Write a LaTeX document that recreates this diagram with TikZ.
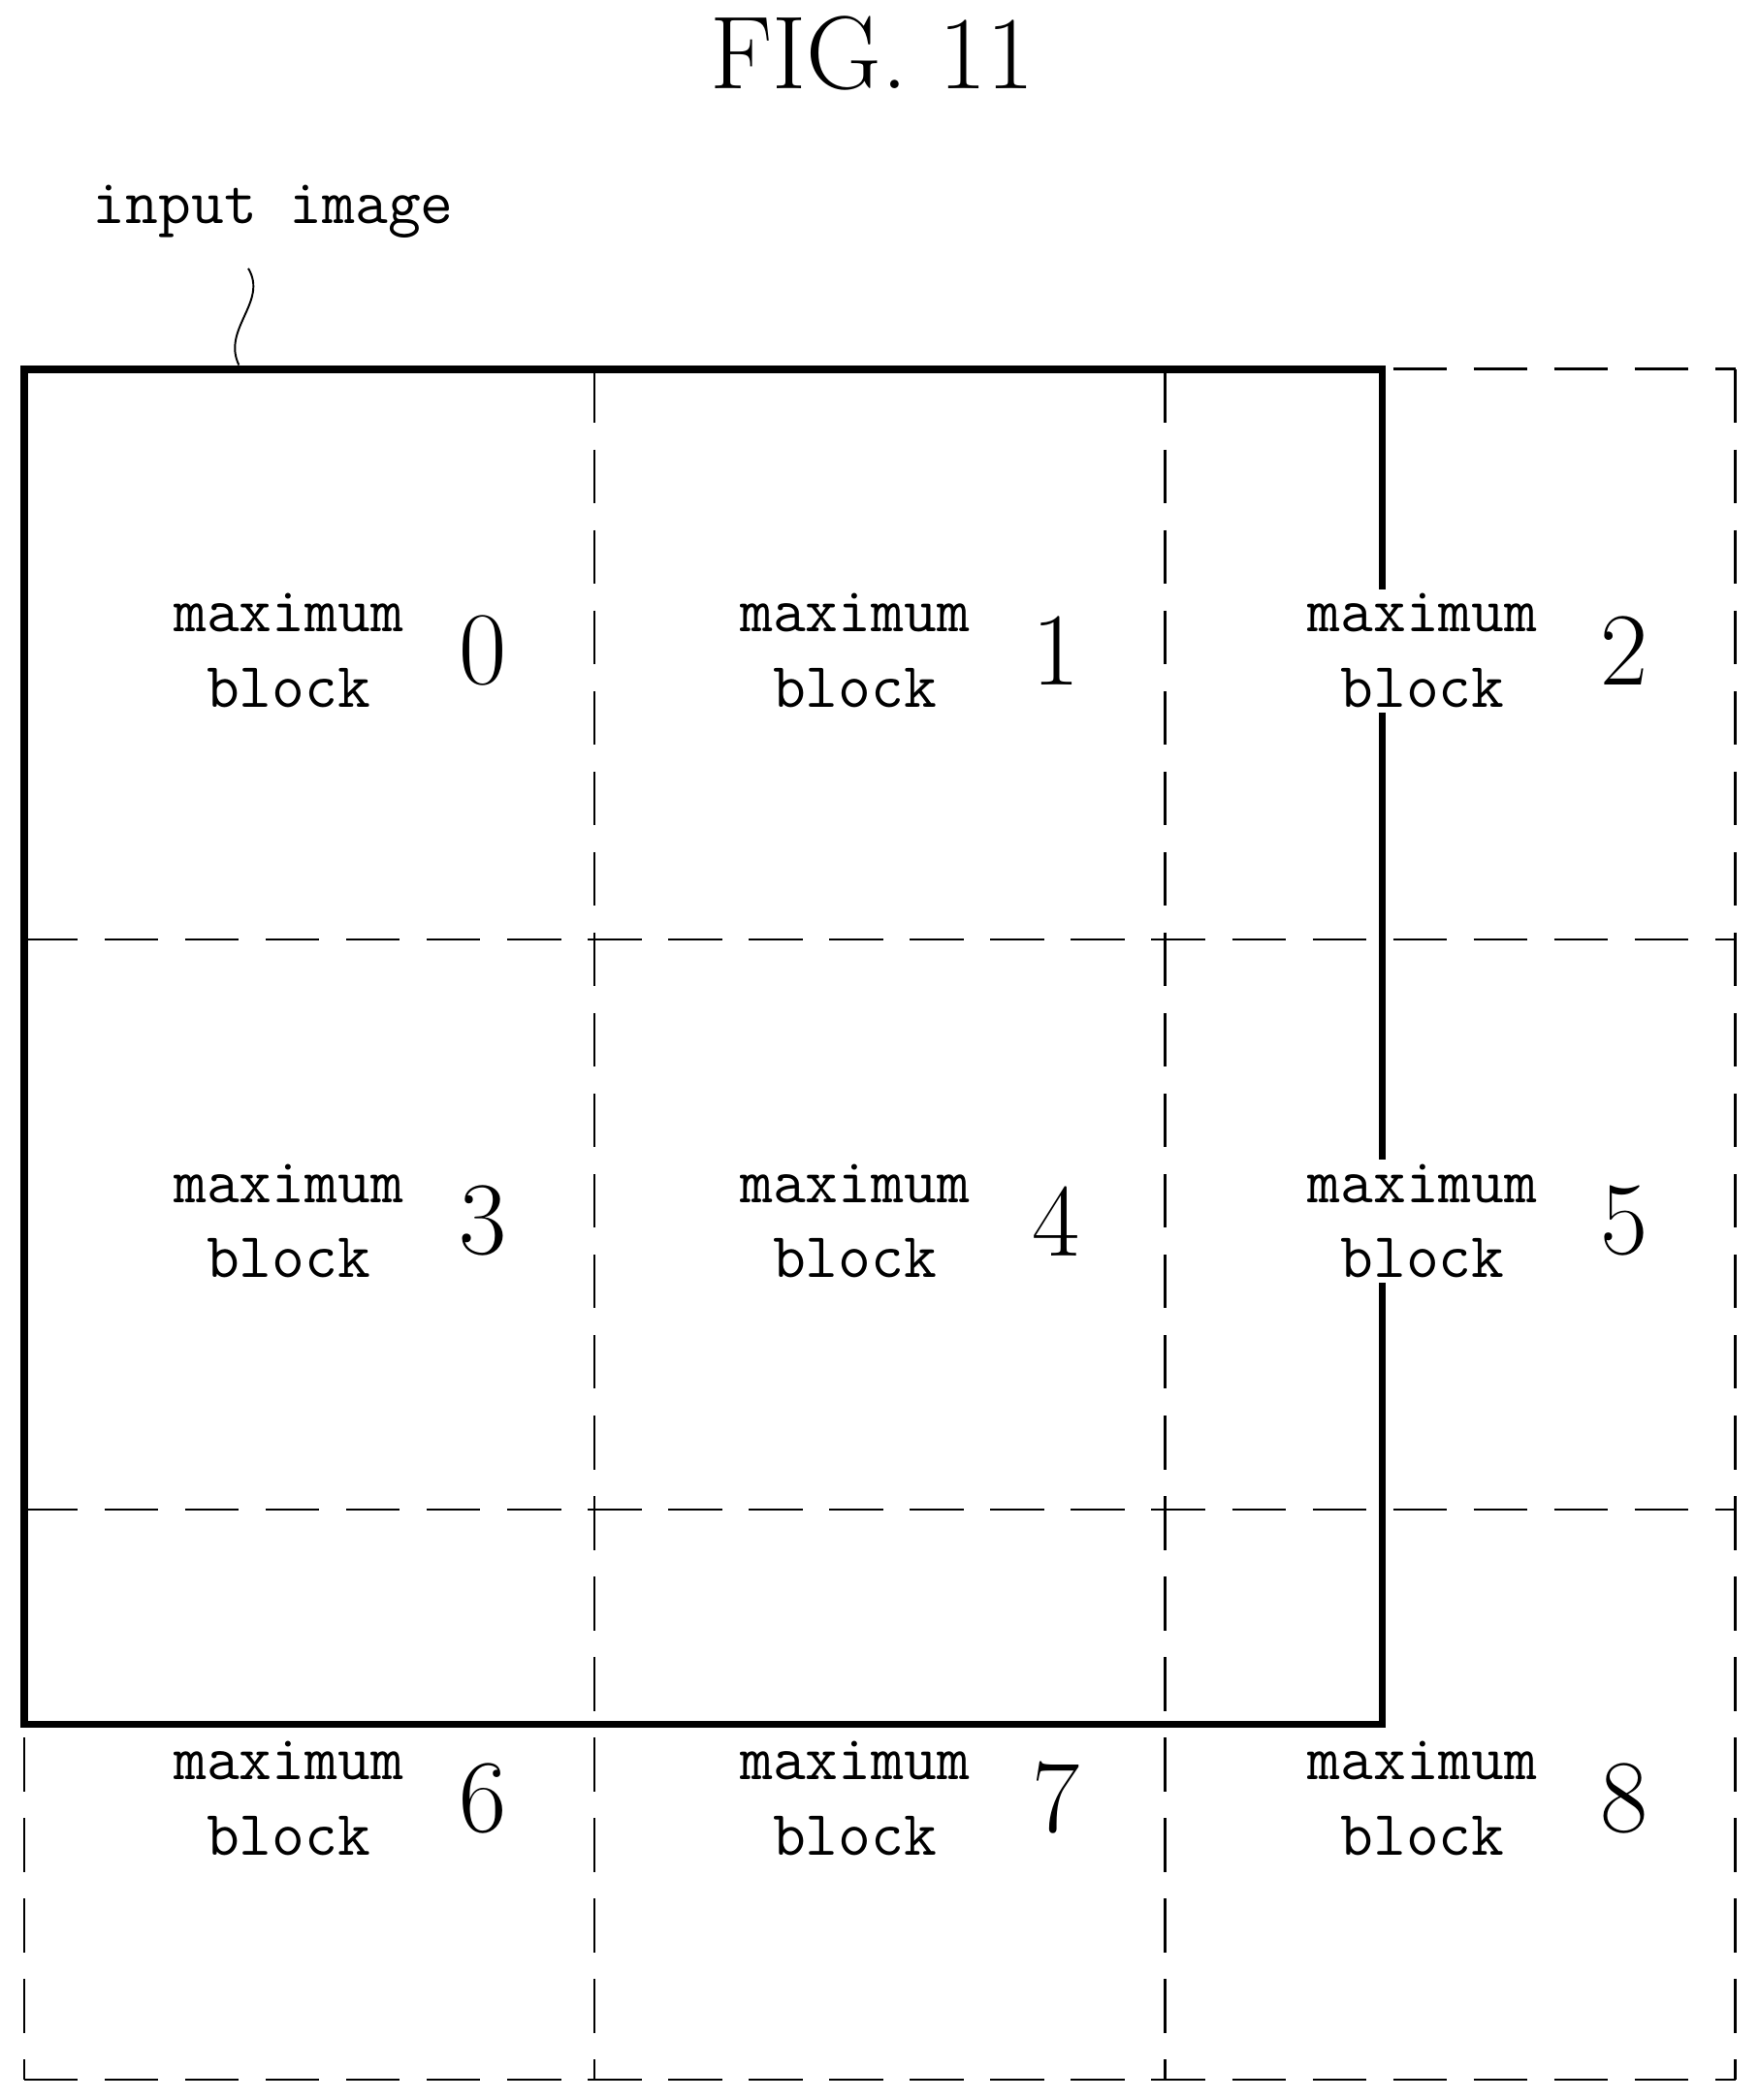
\documentclass[tikz,border=0pt]{standalone}
\usetikzlibrary{positioning}
\begin{document}
\begin{tikzpicture}[x=0.1mm,y=-0.1mm,
  blk/.style={dash pattern=on 4mm off 2mm, line width=0.5pt},
  img/.style={line width=1.6pt},
  lbl/.style={font=\ttfamily\fontsize{13.5}{16}\selectfont, align=center, fill=white, inner sep=1pt},
  num/.style={font=\fontsize{22}{24}\selectfont}]
  \useasboundingbox (0,0) rectangle (1310,1565);
  \node (title) at (650,40) {\fontsize{22}{24}\selectfont FIG. 11};

  % the maximum blocks
  \foreach \p in {18,443,868,1293}{
    \draw[blk] (\p,275) -- (\p,1550);
    \draw[blk] (18,\p+257) -- (1293,\p+257);
  }

  % the input image
  \draw[img] (18,275) rectangle (1030,1285);
  \node[lbl, anchor=west] (input) at (65,158) {input image};
  \coordinate (lead) at (178,272);
  \draw (185,200) .. controls (200,225) and (165,245) .. (lead);

  \foreach \r [count=\i from 0] in {485,910,1340}{
    \foreach \cx/\nx [count=\j from 0] in {215/360,637/787,1060/1210}{
      \pgfmathtruncatemacro\k{3*\i+\j}
      \node[lbl] (blk\k) at (\cx,\r) {maximum\\block};
      \node[num] (num\k) at (\nx,\r) {\k};
    }
  }
\end{tikzpicture}
\end{document}
